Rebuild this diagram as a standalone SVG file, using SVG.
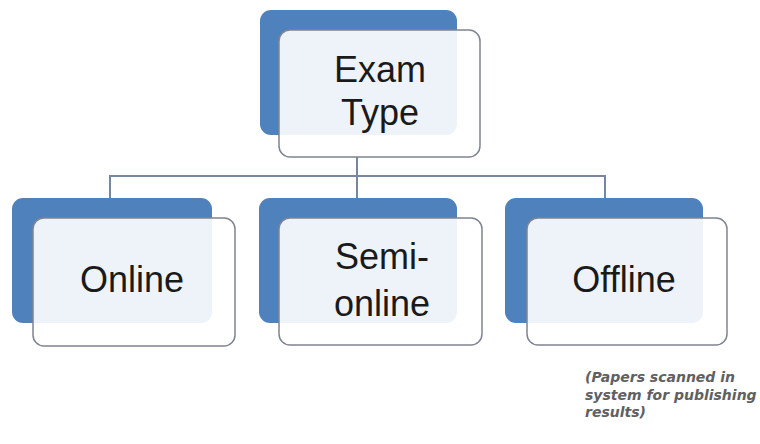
<svg xmlns="http://www.w3.org/2000/svg" width="760" height="444" viewBox="0 0 760 444">
<style>
.back{fill:#4f81bd}
.front{fill:#ffffff;fill-opacity:0.9;stroke:#7f8590;stroke-width:1.5}
.lbl{font-family:"Liberation Sans","Open Sans",sans-serif;font-size:36px;fill:#1a1a1a;text-anchor:middle}
.conn{fill:none;stroke:#76869f;stroke-width:2}
.note{font-family:"DejaVu Sans","Liberation Sans",sans-serif;font-size:14px;font-style:italic;font-weight:bold;fill:#606060}
</style>
<rect width="760" height="444" fill="#ffffff"/>
<g id="connectors">
<path class="conn" d="M357 157V176M110 198V176H605V198M357 176V198"/>
</g>
<g id="exam-type">
<rect class="back" x="260" y="10" width="197" height="125" rx="11"/>
<rect class="front" x="279" y="30" width="201" height="127" rx="11"/>
<text class="lbl" x="380" y="82">Exam</text>
<text class="lbl" x="380" y="125">Type</text>
</g>
<g id="online">
<rect class="back" x="12" y="198" width="200" height="125" rx="11"/>
<rect class="front" x="33" y="218" width="202" height="128" rx="11"/>
<text class="lbl" x="132" y="292">Online</text>
</g>
<g id="semi-online">
<rect class="back" x="259" y="198" width="198" height="125" rx="11"/>
<rect class="front" x="279" y="218" width="203" height="127" rx="11"/>
<text class="lbl" x="382" y="269">Semi-</text>
<text class="lbl" x="382" y="316">online</text>
</g>
<g id="offline">
<rect class="back" x="505" y="198" width="198" height="125" rx="11"/>
<rect class="front" x="527" y="218" width="200" height="127" rx="11"/>
<text class="lbl" x="624" y="292">Offline</text>
</g>
<g id="note">
<text class="note" x="585" y="382">(Papers scanned in</text>
<text class="note" x="585" y="400">system for publishing</text>
<text class="note" x="585" y="417">results)</text>
</g>
</svg>
